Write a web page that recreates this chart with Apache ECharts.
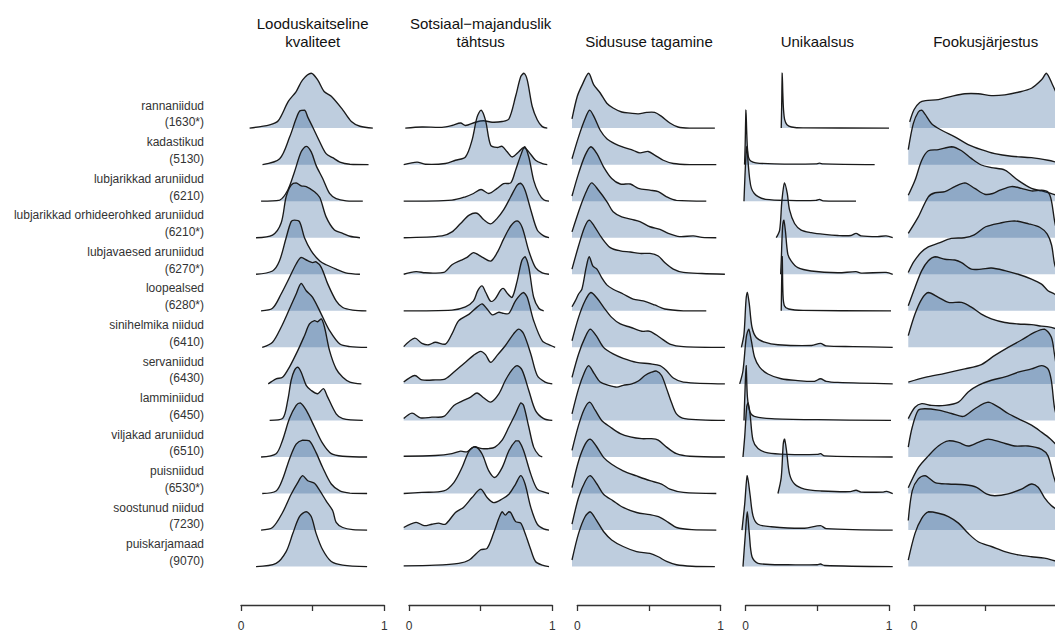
<!DOCTYPE html>
<html>
<head>
<meta charset="utf-8">
<script src="https://cdn.jsdelivr.net/npm/echarts@6/dist/echarts.min.js"></script>
<style>
html,body{margin:0;padding:0;background:#fff;}
#chart{width:1055px;height:633px;}
</style>
</head>
<body>
<div id="chart"></div>
<script>
// ---------- DATA ----------
const panelTitles = ['Looduskaitseline\nkvaliteet', 'Sotsiaal\u2212majanduslik\ntähtsus', 'Sidususe tagamine', 'Unikaalsus', 'Fookusjärjestus'];
const habitatNames = ['rannaniidud', 'kadastikud', 'lubjarikkad aruniidud', 'lubjarikkad orhideerohked aruniidud', 'lubjavaesed aruniidud', 'loopealsed', 'sinihelmika niidud', 'servaniidud', 'lamminiidud', 'viljakad aruniidud', 'puisniidud', 'soostunud niidud', 'puiskarjamaad'];
const habitatCodes = ['(1630*)', '(5130)', '(6210)', '(6210*)', '(6270*)', '(6280*)', '(6410)', '(6430)', '(6450)', '(6510)', '(6530*)', '(7230)', '(9070)'];
const tickValues = [0, 0.5, 1];
const tickLabels = ['0', '', '1'];

// density curves: [x, height in row units], one list per habitat
const kvaliteet = [
  [[0.06,0],[0.2,0.09],[0.26,0.2],[0.33,0.73],[0.385,1.0],[0.43,1.32],[0.49,1.5],[0.535,1.32],[0.58,1.0],[0.63,0.87],[0.71,0.5],[0.77,0.18],[0.83,0.05],[0.92,0]],
  [[0.15,0],[0.27,0.16],[0.34,0.76],[0.385,1.26],[0.41,1.47],[0.445,1.49],[0.466,1.3],[0.5,1.03],[0.55,0.62],[0.594,0.3],[0.64,0.19],[0.69,0.07],[0.76,0.01],[0.89,0]],
  [[0.14,0],[0.27,0.03],[0.326,0.3],[0.373,0.8],[0.42,1.35],[0.455,1.5],[0.49,1.35],[0.524,0.98],[0.57,0.62],[0.618,0.21],[0.664,0.07],[0.734,0.01],[0.85,0]],
  [[0.105,0],[0.22,0.07],[0.28,0.4],[0.315,1.12],[0.35,1.44],[0.385,1.5],[0.42,1.42],[0.455,1.4],[0.513,1.26],[0.55,1.1],[0.594,0.57],[0.652,0.21],[0.71,0.12],[0.76,0.04],[0.83,0]],
  [[0.105,0],[0.22,0.09],[0.268,0.36],[0.315,1.0],[0.35,1.44],[0.373,1.48],[0.408,1.44],[0.443,1.0],[0.49,0.64],[0.55,0.36],[0.594,0.26],[0.664,0.14],[0.73,0.04],[0.83,0]],
  [[0.14,0],[0.22,0.07],[0.28,0.46],[0.338,0.91],[0.385,1.28],[0.42,1.46],[0.466,1.37],[0.5,1.32],[0.524,1.34],[0.56,1.19],[0.606,0.73],[0.664,0.27],[0.71,0.09],[0.78,0.02],[0.875,0]],
  [[0.148,0],[0.22,0.14],[0.28,0.55],[0.338,1.05],[0.385,1.46],[0.42,1.75],[0.455,1.55],[0.5,1.37],[0.56,0.91],[0.618,0.46],[0.69,0.09],[0.76,0.02],[0.88,0]],
  [[0.19,0],[0.245,0.14],[0.29,0.18],[0.338,0.46],[0.396,0.91],[0.443,1.32],[0.478,1.64],[0.513,1.73],[0.535,1.7],[0.56,1.78],[0.583,1.55],[0.618,0.91],[0.664,0.41],[0.71,0.18],[0.76,0.05],[0.84,0]],
  [[0.2,0],[0.29,0.05],[0.326,0.55],[0.35,1.1],[0.373,1.37],[0.396,1.46],[0.42,1.32],[0.455,0.96],[0.49,0.82],[0.536,0.73],[0.575,0.87],[0.6,0.68],[0.664,0.18],[0.71,0.05],[0.85,0]],
  [[0.14,0],[0.245,0.09],[0.29,0.46],[0.338,1.05],[0.385,1.41],[0.413,1.48],[0.455,1.28],[0.513,0.82],[0.57,0.37],[0.63,0.09],[0.71,0.02],[0.88,0]],
  [[0.148,0],[0.245,0.07],[0.29,0.39],[0.338,0.94],[0.385,1.35],[0.43,1.46],[0.478,1.44],[0.524,1.12],[0.57,0.71],[0.63,0.26],[0.69,0.07],[0.76,0.01],[0.88,0]],
  [[0.14,0],[0.22,0.07],[0.29,0.48],[0.35,0.98],[0.396,1.3],[0.43,1.49],[0.466,1.35],[0.513,1.28],[0.55,1.08],[0.594,0.8],[0.64,0.53],[0.664,0.21],[0.71,0.07],[0.78,0.01],[0.88,0]],
  [[0.105,0],[0.245,0.09],[0.315,0.41],[0.362,0.91],[0.408,1.37],[0.455,1.5],[0.49,1.37],[0.524,0.91],[0.57,0.46],[0.63,0.14],[0.71,0.04],[0.88,0]]
];

const tahtsus = [
  [[-0.026,0],[0.09,0.03],[0.23,0.02],[0.3,0.07],[0.36,0.14],[0.394,0.07],[0.464,0.16],[0.52,0.2],[0.58,0.16],[0.65,0.18],[0.697,0.25],[0.744,0.87],[0.78,1.41],[0.802,1.5],[0.825,1.32],[0.86,0.59],[0.895,0.23],[0.93,0.04],[0.965,0]],
  [[-0.037,0],[0.056,0.07],[0.114,0.01],[0.254,0.03],[0.324,0.12],[0.394,0.21],[0.44,0.67],[0.475,1.3],[0.503,1.49],[0.534,1.21],[0.57,0.53],[0.615,0.47],[0.65,0.5],[0.685,0.35],[0.72,0.21],[0.766,0.35],[0.8,0.47],[0.836,0.35],[0.883,0.12],[0.93,0.03],[0.965,0]],
  [[-0.037,0],[0.3,0.03],[0.394,0.12],[0.45,0.21],[0.503,0.32],[0.557,0.21],[0.615,0.35],[0.66,0.48],[0.71,0.5],[0.744,0.85],[0.78,1.26],[0.807,1.49],[0.836,1.21],[0.87,0.57],[0.906,0.21],[0.94,0.04],[0.977,0]],
  [[-0.037,0],[0.231,0.05],[0.3,0.16],[0.36,0.39],[0.42,0.62],[0.475,0.67],[0.52,0.5],[0.57,0.38],[0.615,0.53],[0.66,0.76],[0.71,1.12],[0.755,1.44],[0.78,1.49],[0.81,1.3],[0.85,0.76],[0.895,0.21],[0.94,0.05],[0.977,0]],
  [[-0.037,0],[0.049,0.07],[0.114,0.04],[0.243,0.05],[0.3,0.26],[0.36,0.38],[0.405,0.46],[0.45,0.59],[0.51,0.47],[0.57,0.36],[0.615,0.59],[0.66,0.96],[0.71,1.32],[0.755,1.46],[0.79,1.28],[0.836,0.64],[0.883,0.18],[0.93,0.04],[0.977,0]],
  [[-0.037,0],[0.3,0.02],[0.394,0.11],[0.45,0.27],[0.48,0.55],[0.51,0.68],[0.536,0.5],[0.57,0.26],[0.6,0.32],[0.64,0.57],[0.66,0.61],[0.69,0.46],[0.72,0.37],[0.755,0.82],[0.787,1.37],[0.81,1.48],[0.836,1.19],[0.87,0.37],[0.906,0.07],[0.94,0]],
  [[-0.037,0.02],[0.04,0.25],[0.09,0.11],[0.137,0.07],[0.184,0.14],[0.254,0.09],[0.3,0.37],[0.347,0.73],[0.42,0.91],[0.475,1.1],[0.51,1.19],[0.545,1.05],[0.58,0.89],[0.627,0.96],[0.66,0.93],[0.697,0.93],[0.744,1.28],[0.797,1.5],[0.825,1.37],[0.87,0.73],[0.93,0.18],[0.99,0.05],[1.02,0]],
  [[-0.037,0.05],[0.04,0.23],[0.09,0.11],[0.184,0.11],[0.254,0.14],[0.324,0.36],[0.394,0.59],[0.45,0.78],[0.5,0.89],[0.534,0.8],[0.57,0.59],[0.615,0.78],[0.673,1.05],[0.73,1.37],[0.766,1.5],[0.8,1.37],[0.85,0.82],[0.895,0.23],[0.95,0.05],[1.0,0]],
  [[-0.037,0.05],[0.021,0.2],[0.08,0.07],[0.16,0.09],[0.243,0.11],[0.313,0.41],[0.37,0.53],[0.43,0.64],[0.475,0.75],[0.52,0.62],[0.57,0.5],[0.627,0.73],[0.673,1.1],[0.72,1.39],[0.755,1.5],[0.79,1.37],[0.836,0.82],[0.883,0.27],[0.94,0.05],[1.0,0]],
  [[-0.037,0.02],[0.184,0.04],[0.3,0.09],[0.36,0.16],[0.405,0.14],[0.45,0.27],[0.51,0.23],[0.557,0.23],[0.6,0.27],[0.65,0.46],[0.697,0.82],[0.744,1.19],[0.78,1.48],[0.8,1.41],[0.836,0.82],[0.87,0.27],[0.906,0.05],[0.93,0]],
  [[-0.037,0],[0.09,0.03],[0.243,0.07],[0.313,0.3],[0.37,0.71],[0.42,1.17],[0.464,1.28],[0.51,1.08],[0.557,0.62],[0.6,0.44],[0.65,0.71],[0.697,1.17],[0.744,1.44],[0.766,1.44],[0.8,1.17],[0.85,0.53],[0.895,0.12],[0.95,0.03],[0.977,0]],
  [[-0.037,0.07],[0.049,0.21],[0.105,0.12],[0.16,0.16],[0.207,0.19],[0.254,0.16],[0.324,0.48],[0.38,0.62],[0.44,0.89],[0.5,1.12],[0.545,0.89],[0.59,0.75],[0.65,0.85],[0.697,0.98],[0.744,1.26],[0.78,1.49],[0.81,1.26],[0.85,0.62],[0.895,0.16],[0.94,0.03],[0.977,0]],
  [[-0.037,0.02],[0.184,0.04],[0.347,0.09],[0.42,0.18],[0.5,0.46],[0.545,0.5],[0.59,0.91],[0.627,1.32],[0.65,1.5],[0.673,1.41],[0.695,1.5],[0.71,1.48],[0.744,1.23],[0.78,1.19],[0.81,0.91],[0.85,0.46],[0.883,0.14],[0.93,0.04],[0.977,0]]
];

const sidusus = [
  [[-0.037,0.25],[0.0,0.87],[0.035,1.19],[0.079,1.5],[0.114,1.19],[0.16,0.96],[0.206,0.68],[0.25,0.55],[0.31,0.44],[0.37,0.41],[0.426,0.39],[0.484,0.43],[0.54,0.43],[0.588,0.32],[0.646,0.14],[0.703,0.03],[0.785,0],[0.96,0]],
  [[-0.037,0.16],[0.009,0.76],[0.055,1.26],[0.086,1.49],[0.118,1.3],[0.16,0.94],[0.206,0.71],[0.264,0.57],[0.32,0.48],[0.39,0.39],[0.437,0.32],[0.495,0.36],[0.54,0.26],[0.6,0.12],[0.67,0.03],[0.785,0],[0.97,0]],
  [[-0.037,0.14],[0.009,0.76],[0.055,1.26],[0.095,1.49],[0.137,1.3],[0.183,0.94],[0.24,0.62],[0.3,0.47],[0.37,0.47],[0.426,0.35],[0.507,0.3],[0.565,0.26],[0.623,0.12],[0.692,0.02],[0.9,0]],
  [[-0.037,0.16],[0.021,0.85],[0.067,1.3],[0.1,1.5],[0.148,1.3],[0.206,0.99],[0.25,0.71],[0.31,0.57],[0.38,0.5],[0.437,0.44],[0.507,0.3],[0.577,0.23],[0.635,0.12],[0.715,0.03],[0.81,0.05],[0.87,0.01],[0.97,0]],
  [[-0.037,0.14],[0.009,0.78],[0.05,1.28],[0.083,1.48],[0.118,1.32],[0.17,1.0],[0.23,0.73],[0.3,0.64],[0.37,0.61],[0.437,0.57],[0.507,0.57],[0.565,0.5],[0.61,0.32],[0.67,0.14],[0.74,0.05],[0.87,0.02],[1.03,0]],
  [[-0.037,0.11],[-0.014,0.27],[0.009,0.46],[0.032,0.59],[0.062,1.19],[0.083,1.48],[0.109,1.22],[0.137,1.14],[0.17,0.91],[0.206,0.71],[0.25,0.59],[0.32,0.46],[0.39,0.32],[0.46,0.27],[0.54,0.16],[0.61,0.05],[0.74,0],[0.9,0]],
  [[-0.037,0.18],[0.009,0.82],[0.055,1.28],[0.095,1.5],[0.137,1.35],[0.183,1.1],[0.24,0.82],[0.3,0.64],[0.37,0.55],[0.45,0.44],[0.507,0.44],[0.577,0.27],[0.646,0.09],[0.74,0.02],[1.03,0]],
  [[-0.037,0.18],[0.009,0.82],[0.055,1.28],[0.09,1.5],[0.132,1.32],[0.183,1.0],[0.25,0.82],[0.32,0.7],[0.414,0.59],[0.507,0.55],[0.577,0.5],[0.623,0.36],[0.67,0.16],[0.74,0.05],[1.03,0]],
  [[-0.037,0.18],[0.009,0.87],[0.05,1.32],[0.079,1.5],[0.118,1.28],[0.16,1.05],[0.218,0.96],[0.276,0.91],[0.32,0.96],[0.38,1.0],[0.426,1.08],[0.472,1.23],[0.518,1.32],[0.553,1.35],[0.588,1.23],[0.623,0.87],[0.66,0.46],[0.692,0.18],[0.75,0.05],[1.03,0]],
  [[-0.037,0.18],[0.009,0.87],[0.05,1.32],[0.086,1.5],[0.125,1.28],[0.17,1.0],[0.23,0.82],[0.3,0.64],[0.37,0.55],[0.45,0.5],[0.518,0.5],[0.565,0.46],[0.623,0.27],[0.692,0.09],[0.785,0.02],[1.03,0]],
  [[-0.037,0.16],[0.009,0.89],[0.055,1.35],[0.09,1.49],[0.132,1.3],[0.183,0.99],[0.24,0.8],[0.32,0.62],[0.414,0.48],[0.507,0.35],[0.588,0.26],[0.646,0.12],[0.74,0.03],[0.97,0]],
  [[-0.037,0.16],[0.009,0.89],[0.055,1.33],[0.09,1.49],[0.137,1.26],[0.183,0.98],[0.25,0.8],[0.32,0.62],[0.414,0.48],[0.507,0.42],[0.577,0.35],[0.635,0.21],[0.692,0.07],[0.8,0.01],[0.97,0]],
  [[-0.037,0.18],[0.009,0.91],[0.055,1.37],[0.09,1.5],[0.132,1.28],[0.183,0.96],[0.24,0.73],[0.32,0.55],[0.414,0.41],[0.507,0.36],[0.565,0.27],[0.623,0.14],[0.692,0.05],[0.8,0.01],[0.96,0]]
];

const unikaalsus = [
  [[0.248,0],[0.251,0.6],[0.255,1.5],[0.259,0.95],[0.264,0.5],[0.272,0.23],[0.288,0.09],[0.32,0.03],[0.4,0.005],[1.0,0]],
  [[-0.008,0],[-0.004,0.5],[0.002,1.49],[0.007,0.9],[0.012,0.45],[0.02,0.2],[0.035,0.1],[0.07,0.05],[0.2,0.02],[0.49,0.02],[0.515,0.04],[0.54,0.02],[0.9,0]],
  [[-0.012,0],[-0.005,0.7],[0.004,1.4],[0.009,1.5],[0.016,1.1],[0.028,0.6],[0.04,0.35],[0.06,0.21],[0.09,0.12],[0.14,0.05],[0.3,0.02],[0.49,0.02],[0.515,0.05],[0.54,0.01],[0.77,0]],
  [[0.213,0],[0.237,0.21],[0.253,1.03],[0.271,1.5],[0.29,1.21],[0.306,0.76],[0.341,0.39],[0.387,0.21],[0.457,0.14],[0.55,0.09],[0.643,0.06],[0.735,0.06],[0.77,0.12],[0.805,0.05],[0.92,0.03],[0.98,0.05],[1.026,0]],
  [[0.244,0],[0.248,0.36],[0.257,1.28],[0.266,1.48],[0.277,1.19],[0.294,0.55],[0.318,0.36],[0.364,0.18],[0.457,0.09],[0.643,0.04],[0.77,0.07],[0.805,0.03],[0.98,0.05],[1.026,0]],
  [[0.248,0],[0.251,0.8],[0.255,1.48],[0.26,0.46],[0.27,0.14],[0.3,0.05],[0.4,0.01],[1.014,0]],
  [[-0.03,0],[-0.012,0.36],[0.002,1.28],[0.011,1.5],[0.025,1.19],[0.044,0.55],[0.074,0.27],[0.132,0.14],[0.225,0.07],[0.46,0.05],[0.522,0.11],[0.56,0.04],[0.75,0.02],[1.026,0]],
  [[-0.042,0],[-0.019,0.36],[0.004,1.28],[0.021,1.5],[0.039,1.19],[0.062,0.73],[0.097,0.46],[0.155,0.27],[0.248,0.14],[0.364,0.09],[0.48,0.07],[0.522,0.14],[0.562,0.07],[0.643,0.04],[1.026,0]],
  [[-0.012,0],[-0.004,0.91],[0.003,1.5],[0.012,0.64],[0.03,0.23],[0.06,0.11],[0.18,0.05],[0.5,0.02],[1.014,0]],
  [[-0.019,0],[-0.007,0.55],[0.007,1.37],[0.016,1.48],[0.03,1.19],[0.051,0.46],[0.086,0.23],[0.155,0.11],[0.295,0.07],[0.5,0.07],[0.522,0.09],[0.55,0.03],[1.026,0]],
  [[0.225,0],[0.248,0.44],[0.262,1.35],[0.271,1.49],[0.285,1.17],[0.306,0.53],[0.341,0.26],[0.411,0.12],[0.527,0.07],[0.73,0.05],[0.77,0.09],[0.805,0.04],[0.96,0.04],[0.985,0.06],[1.026,0]],
  [[-0.026,0],[-0.007,0.71],[0.011,1.49],[0.03,0.98],[0.051,0.39],[0.086,0.16],[0.179,0.09],[0.411,0.05],[0.522,0.12],[0.562,0.04],[1.026,0]],
  [[-0.019,0],[-0.002,0.91],[0.011,1.5],[0.025,0.91],[0.044,0.27],[0.086,0.09],[0.295,0.05],[0.5,0.05],[0.522,0.07],[0.55,0.03],[1.026,0]]
];

const fookus = [
  [[-0.03,0.17],[0.0,0.5],[0.04,0.7],[0.08,0.75],[0.17,0.78],[0.262,0.87],[0.355,0.94],[0.448,0.94],[0.54,0.89],[0.634,0.91],[0.727,0.98],[0.82,1.09],[0.89,1.32],[0.924,1.5],[0.965,1.2],[1.0,0.9]],
  [[-0.04,0.41],[-0.005,1.12],[0.03,1.44],[0.054,1.49],[0.077,1.38],[0.123,1.12],[0.193,0.94],[0.285,0.76],[0.378,0.55],[0.47,0.41],[0.564,0.3],[0.68,0.23],[0.82,0.19],[0.935,0.12],[1.0,0.06]],
  [[-0.04,0.16],[0.007,0.57],[0.054,1.12],[0.1,1.38],[0.17,1.41],[0.262,1.49],[0.332,1.38],[0.4,1.17],[0.47,0.99],[0.54,0.92],[0.634,0.85],[0.727,0.57],[0.82,0.35],[0.89,0.28],[0.95,0.22],[1.0,0.15]],
  [[-0.04,0.12],[0.03,0.57],[0.1,1.12],[0.147,1.23],[0.216,1.26],[0.285,1.4],[0.355,1.5],[0.424,1.35],[0.494,1.19],[0.55,1.21],[0.6,1.3],[0.68,1.4],[0.75,1.35],[0.82,1.28],[0.89,1.3],[0.935,1.25],[0.958,1.03],[0.98,0.48],[1.0,0.1]],
  [[-0.04,0.05],[0.0,0.35],[0.05,0.6],[0.1,0.75],[0.17,0.85],[0.26,0.98],[0.35,1.0],[0.42,1.08],[0.5,1.3],[0.6,1.4],[0.7,1.46],[0.8,1.38],[0.88,1.28],[0.93,1.1],[0.96,0.8],[0.98,0.3],[1.0,0.05]],
  [[-0.04,0.14],[0.007,0.64],[0.054,1.1],[0.1,1.37],[0.147,1.48],[0.216,1.41],[0.285,1.39],[0.332,1.32],[0.4,1.14],[0.47,1.14],[0.54,1.17],[0.634,1.1],[0.727,1.0],[0.82,0.87],[0.89,0.73],[0.935,0.55],[0.98,0.46],[1.0,0.4]],
  [[-0.04,0.32],[0.007,0.91],[0.054,1.32],[0.1,1.5],[0.17,1.37],[0.24,1.23],[0.332,1.23],[0.4,1.1],[0.47,0.91],[0.54,0.78],[0.634,0.68],[0.727,0.64],[0.82,0.62],[0.89,0.58],[0.94,0.56],[1.0,0.5]],
  [[-0.04,0.05],[0.077,0.18],[0.216,0.29],[0.355,0.41],[0.47,0.53],[0.564,0.78],[0.657,1.0],[0.75,1.2],[0.84,1.41],[0.91,1.5],[0.958,1.28],[0.98,0.82],[1.0,0.3]],
  [[-0.04,0.05],[0.007,0.36],[0.054,0.46],[0.123,0.41],[0.216,0.41],[0.31,0.5],[0.378,0.78],[0.448,0.96],[0.54,1.1],[0.634,1.19],[0.727,1.32],[0.82,1.41],[0.89,1.5],[0.935,1.41],[0.958,1.1],[0.98,0.36],[1.0,0.05]],
  [[-0.04,0.27],[-0.012,0.82],[0.03,1.28],[0.077,1.32],[0.17,1.28],[0.262,1.19],[0.343,1.11],[0.424,1.32],[0.517,1.5],[0.587,1.37],[0.657,1.19],[0.727,1.05],[0.82,0.87],[0.89,0.68],[0.95,0.5],[1.0,0.3]],
  [[-0.04,0.16],[0.03,0.71],[0.1,1.03],[0.17,1.3],[0.24,1.44],[0.31,1.4],[0.378,1.3],[0.448,1.4],[0.517,1.49],[0.61,1.4],[0.703,1.3],[0.796,1.3],[0.89,1.21],[0.935,1.03],[0.97,0.53],[1.0,0.15]],
  [[-0.04,0.26],[-0.012,1.08],[0.03,1.4],[0.077,1.49],[0.147,1.3],[0.24,1.26],[0.355,1.24],[0.437,1.17],[0.505,0.99],[0.564,0.94],[0.657,0.99],[0.75,1.12],[0.82,1.26],[0.866,1.17],[0.91,0.89],[0.958,0.67],[1.0,0.55]],
  [[-0.04,0.18],[0.007,0.91],[0.054,1.32],[0.1,1.5],[0.17,1.46],[0.24,1.37],[0.31,1.19],[0.378,0.91],[0.448,0.68],[0.54,0.55],[0.634,0.41],[0.727,0.32],[0.82,0.27],[0.91,0.23],[0.98,0.16],[1.0,0.14]]
];

const panels = [kvaliteet, tahtsus, sidusus, unikaalsus, fookus];

// ---------- LAYOUT / STYLE ----------
const chartWidth = 1055, chartHeight = 633;
const nRows = habitatNames.length;
const gridLefts = [241, 409, 577.3, 745.7, 914];
const gridWidth = 143.3;
const gridTop = 55;
const gridHeight = 511.6; // 14 row units
const yMax = 14;
const fillColor = 'rgba(23,77,137,0.28)';
const lineColor = '#1a1a1a';
const fontFam = '"Liberation Sans", Arial, Helvetica, sans-serif';

const chart = echarts.init(document.getElementById('chart'), null, {renderer: 'svg', width: chartWidth, height: chartHeight});

function makeRender(p) {
  return function (params, api) {
    const i = params.dataIndex;
    const pts = panels[p][i];
    const base = nRows - 1 - i;
    const line = pts.map(d => api.coord([d[0], base + d[1]]));
    const b0 = api.coord([pts[0][0], base]);
    const b1 = api.coord([pts[pts.length - 1][0], base]);
    const poly = [b0].concat(line, [b1]);
    const children = [
      {type: 'polygon', shape: {points: poly, smooth: 0.3, smoothConstraint: [b0, b0]},
       style: {fill: fillColor, stroke: null}},
      {type: 'polyline', shape: {points: line, smooth: 0.3, smoothConstraint: [b0, b0]},
       style: {stroke: lineColor, lineWidth: 1.35, fill: null}}
    ];
    if (p === 0) {
      const z = api.coord([0, base]);
      children.push({type: 'text', x: z[0] - 37, y: z[1] - 14,
        style: {text: habitatNames[i] + '\n' + habitatCodes[i], align: 'right', verticalAlign: 'middle',
                fontSize: 12, lineHeight: 16.7, fontFamily: fontFam, fill: '#333'}});
    }
    return {type: 'group', children: children};
  };
}

const grids = [], xAxes = [], yAxes = [], series = [], graphics = [];
for (let p = 0; p < panels.length; p++) {
  // a tick label is only drawn when it fits inside the page (the last panel runs off the right edge)
  const labelFits = v => gridLefts[p] + v * gridWidth + 5 <= chartWidth;
  grids.push({left: gridLefts[p], top: gridTop, width: gridWidth, height: gridHeight,
              containLabel: false, outerBoundsMode: 'none'});
  xAxes.push({
    gridIndex: p, type: 'value', min: 0, max: 1, interval: 0.5, position: 'bottom', offset: 38.4,
    axisLine: {show: true, onZero: false, lineStyle: {color: '#333', width: 1.3}},
    axisTick: {show: true, length: 6, inside: false, lineStyle: {color: '#333', width: 1.3}},
    axisLabel: {show: true, margin: 15, fontSize: 12, fontFamily: fontFam, color: '#333',
      hideOverlap: false,
      formatter: v => { const k = tickValues.indexOf(v); return (k >= 0 && labelFits(v)) ? tickLabels[k] : ''; }},
    splitLine: {show: false}
  });
  yAxes.push({gridIndex: p, type: 'value', min: 0, max: yMax, show: false});
  series.push({
    type: 'custom', xAxisIndex: p, yAxisIndex: p, clip: false,
    data: habitatNames.map((_, i) => [i]),
    renderItem: makeRender(p), silent: true
  });
  graphics.push({
    type: 'text', x: gridLefts[p] + gridWidth / 2, y: 50.9,
    style: {text: panelTitles[p], align: 'center', verticalAlign: 'bottom', fontSize: 15, lineHeight: 18.4,
            fontFamily: fontFam, fill: '#111'}
  });
}

chart.setOption({
  animation: false,
  backgroundColor: '#ffffff',
  grid: grids,
  xAxis: xAxes,
  yAxis: yAxes,
  series: series,
  graphic: {elements: graphics}
});
</script>
</body>
</html>
